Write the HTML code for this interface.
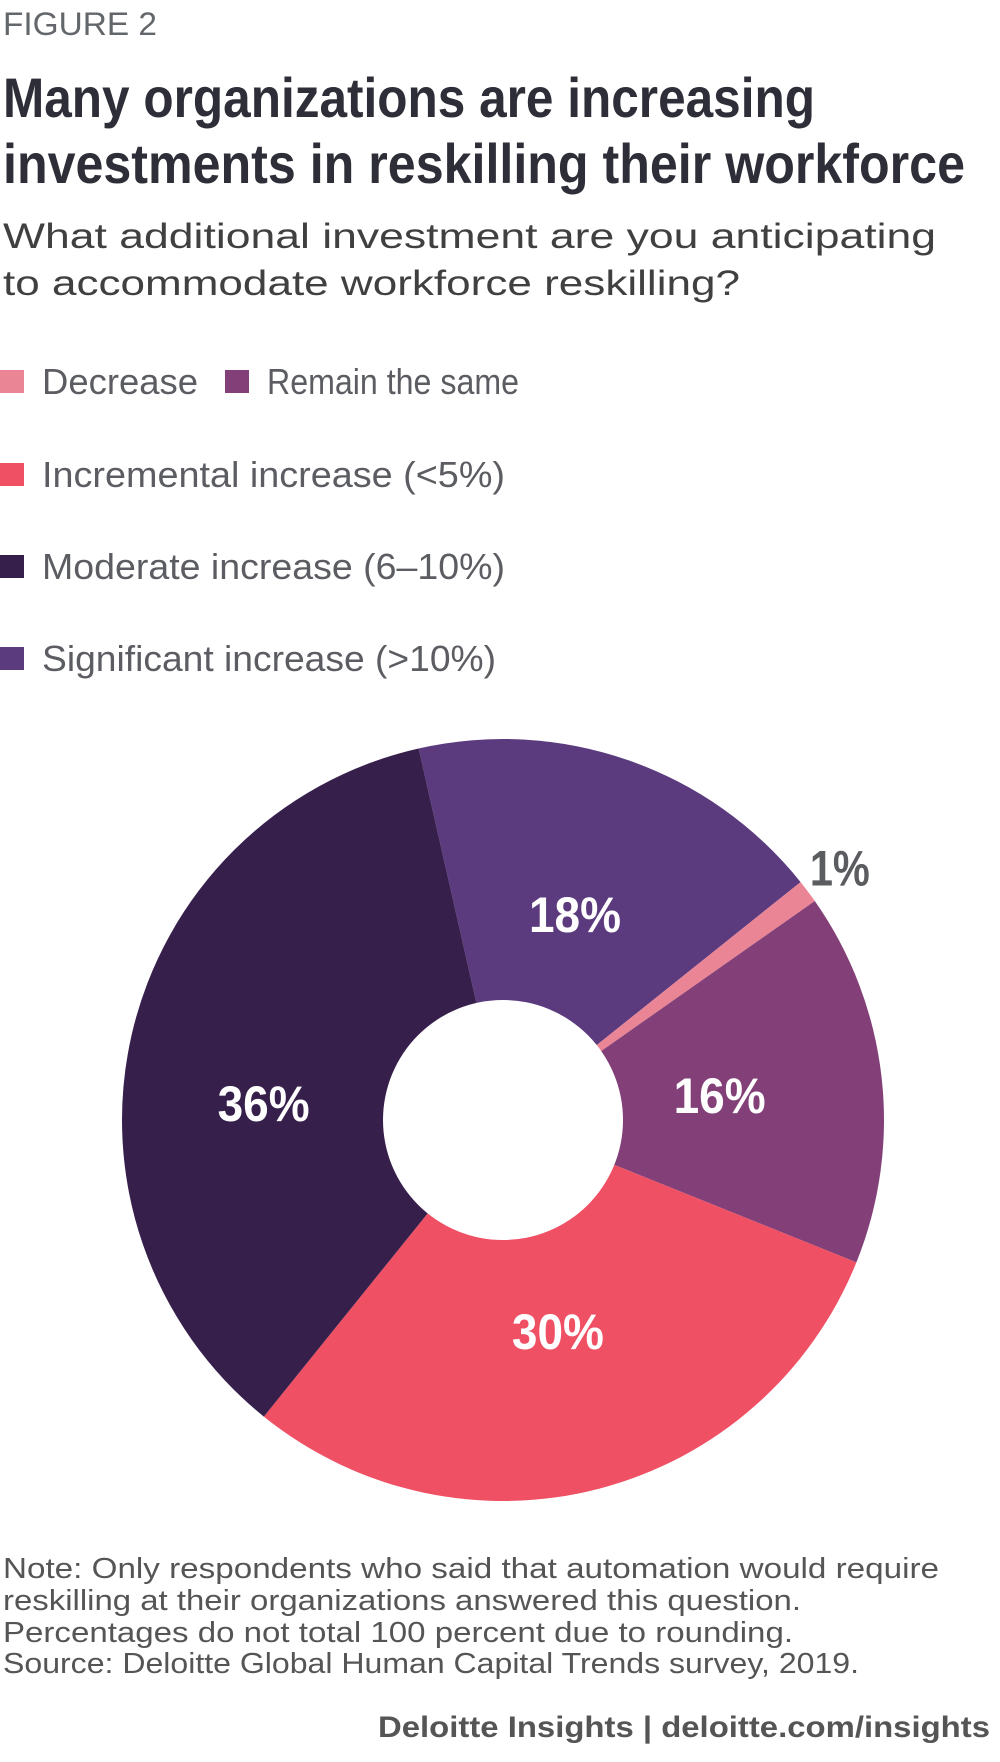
<!DOCTYPE html>
<html><head><meta charset="utf-8"><style>
html,body{margin:0;padding:0;background:#fff;}
svg{display:block;font-family:"Liberation Sans Narrow","Liberation Sans",sans-serif;}
</style></head><body>
<svg id="chart" width="1000" height="1762" viewBox="0 0 1000 1762" xmlns="http://www.w3.org/2000/svg">
<text x="3" y="35" font-size="32" fill="#63666a" textLength="154" lengthAdjust="spacingAndGlyphs">FIGURE 2</text>
<text x="3" y="117" font-size="56" font-weight="bold" fill="#2e2e38" textLength="812" lengthAdjust="spacingAndGlyphs">Many organizations are increasing</text>
<text x="3" y="183" font-size="56" font-weight="bold" fill="#2e2e38" textLength="962" lengthAdjust="spacingAndGlyphs">investments in reskilling their workforce</text>
<text x="3" y="248" font-size="35" fill="#404040" textLength="933" lengthAdjust="spacingAndGlyphs">What additional investment are you anticipating</text>
<text x="3" y="295" font-size="35" fill="#404040" textLength="737" lengthAdjust="spacingAndGlyphs">to accommodate workforce reskilling?</text>
<g id="legend"></g>
<g id="pie"></g>
<text x="3" y="1578" font-size="29" fill="#555" textLength="936" lengthAdjust="spacingAndGlyphs">Note: Only respondents who said that automation would require</text>
<text x="3" y="1610" font-size="29" fill="#555" textLength="798" lengthAdjust="spacingAndGlyphs">reskilling at their organizations answered this question.</text>
<text x="3" y="1642" font-size="29" fill="#555" textLength="790" lengthAdjust="spacingAndGlyphs">Percentages do not total 100 percent due to rounding.</text>
<text x="3" y="1673" font-size="29" fill="#555" textLength="856" lengthAdjust="spacingAndGlyphs">Source: Deloitte Global Human Capital Trends survey, 2019.</text>
<text x="378" y="1737" font-size="30" font-weight="bold" fill="#555" textLength="612" lengthAdjust="spacingAndGlyphs">Deloitte Insights | deloitte.com/insights</text>
</svg>
<script>
const categories = ["Significant increase (>10%)", "Decrease", "Remain the same", "Incremental increase (<5%)", "Moderate increase (6–10%)"];
const values = [18, 1, 16, 30, 36];
const valueLabels = ["18%", "1%", "16%", "30%", "36%"];
const colors = ["#5b3a7e", "#ea8595", "#834078", "#ef5064", "#371f4c"];
const legendOrder = ["Decrease", "Remain the same", "Incremental increase (<5%)", "Moderate increase (6–10%)", "Significant increase (>10%)"];
const legendText = ["Decrease", "Remain the same", "Incremental increase (<5%)", "Moderate increase (6–10%)", "Significant increase (>10%)"];

const NS = "http://www.w3.org/2000/svg";
const cx = 503, cy = 1120, R = 381, r0 = 120, startDeg = -12.8;
const total = values.reduce((a,b)=>a+b,0);
function ang(v){ return (startDeg + v/total*360) * Math.PI/180; }
function pt(a, rad){ return [cx + rad*Math.sin(a), cy - rad*Math.cos(a)]; }

const pie = document.getElementById('pie');
let acc = 0;
values.forEach((v,i)=>{
  const a0 = ang(acc), a1 = ang(acc+v);
  const large = (a1-a0) > Math.PI ? 1 : 0;
  const [x0,y0]=pt(a0,R),[x1,y1]=pt(a1,R);
  const p = document.createElementNS(NS,'path');
  p.setAttribute('d',`M${cx},${cy} L${x0},${y0} A${R},${R} 0 ${large} 1 ${x1},${y1} Z`);
  p.setAttribute('fill',colors[i]);
  
  
  pie.appendChild(p);
  let mid = ang(acc+v/2);
  let lr = 218;
  if (v/total > 0.33) { mid -= 9*Math.PI/180; lr = 240; }
  const t = document.createElementNS(NS,'text');
  const small = v < 5;
  const [lx,ly] = small ? pt(mid, R+40) : pt(mid, lr);
  t.setAttribute('x',lx); t.setAttribute('y',ly+18);
  t.setAttribute('text-anchor','middle');
  t.setAttribute('font-size','50'); t.setAttribute('font-weight','bold');
  t.setAttribute('fill', small ? '#5a5c60' : '#ffffff');
  t.setAttribute('textLength', small ? 60 : 92);
  t.setAttribute('lengthAdjust','spacingAndGlyphs');
  t.textContent = valueLabels[i];
  
  
  pie.appendChild(t);
  acc += v;
});
const hole = document.createElementNS(NS,'circle');
hole.setAttribute('cx',cx); hole.setAttribute('cy',cy); hole.setAttribute('r',r0); hole.setAttribute('fill','#fff');


pie.appendChild(hole);

const legend = document.getElementById('legend');
const legPos = [[0,393],[225,393],[0,486],[0,578],[0,670]];
const legW = [156, 252, 463, 463, 454];
legendOrder.forEach((c,i)=>{
  const idx = categories.indexOf(c);
  const g = document.createElementNS(NS,'g');
  
  
  const s = document.createElementNS(NS,'rect');
  s.setAttribute('x',legPos[i][0]); s.setAttribute('y',legPos[i][1]-23);
  s.setAttribute('width',24); s.setAttribute('height',23); s.setAttribute('fill',colors[idx]);
  
  
  const t = document.createElementNS(NS,'text');
  t.setAttribute('x',legPos[i][0]+42); t.setAttribute('y',legPos[i][1]+1);
  t.setAttribute('font-size','36'); t.setAttribute('fill','#5b5d62');
  t.setAttribute('textLength',legW[i]); t.setAttribute('lengthAdjust','spacingAndGlyphs');
  t.textContent = legendText[i];
  
  
  g.appendChild(s); g.appendChild(t); legend.appendChild(g);
});
</script>
</body></html>
